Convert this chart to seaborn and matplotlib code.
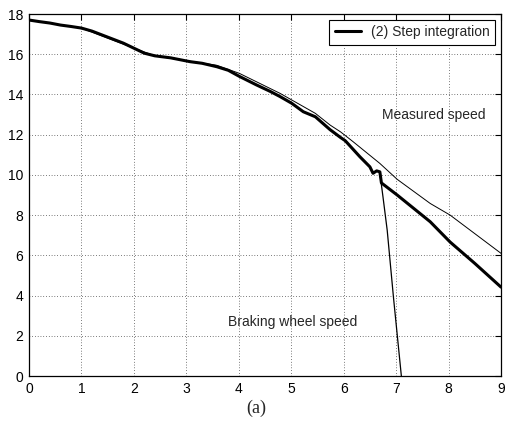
import matplotlib
matplotlib.use("Agg")
import matplotlib.pyplot as plt
import seaborn as sns
import pandas as pd

# Step integration (thick line)
step_t = [0.0, 0.2, 0.4, 0.6, 0.8, 1.0, 1.2, 1.4, 1.6, 1.8, 2.0, 2.2, 2.4, 2.7,
          3.07, 3.3, 3.58, 3.8, 4.01, 4.34, 4.6, 4.79, 5.01, 5.23, 5.46, 5.74,
          5.94, 6.03, 6.31, 6.5, 6.56, 6.63, 6.69, 6.72, 7.02, 7.65, 8.03, 8.5, 9.0]
step_v = [17.7, 17.62, 17.55, 17.45, 17.38, 17.3, 17.15, 16.95, 16.75, 16.55, 16.3,
          16.05, 15.92, 15.82, 15.63, 15.55, 15.38, 15.2, 14.9, 14.47, 14.15, 13.89,
          13.56, 13.14, 12.89, 12.25, 11.86, 11.7, 10.9, 10.4, 10.08, 10.2, 10.15,
          9.6, 9.0, 7.67, 6.66, 5.6, 4.42]

# Measured speed (thin line)
meas_t = [0.0, 1.0, 2.0, 2.4, 3.07, 3.58, 4.01, 4.79, 5.46, 5.74, 5.94, 6.18,
          6.69, 7.02, 7.65, 8.03, 9.0]
meas_v = [17.7, 17.3, 16.3, 15.92, 15.65, 15.45, 15.05, 14.05, 13.06, 12.48,
          12.14, 11.65, 10.57, 9.78, 8.58, 8.0, 6.1]

# Braking wheel speed (thin line)
brake_t = [6.69, 6.75, 6.83, 6.95, 7.1]
brake_v = [10.1, 8.9, 7.25, 3.9, 0.0]

x_ticks = list(range(0, 10))
y_ticks = list(range(0, 19, 2))

sns.set_style("white")
plt.rcParams['font.family'] = ['Liberation Sans', 'DejaVu Sans']

fig = plt.figure(figsize=(5.06, 4.25), dpi=100)
ax = fig.add_axes([29 / 506, 1 - 376 / 425, (501 - 29) / 506, (376 - 14) / 425])

df_step = pd.DataFrame({"t": step_t, "v": step_v})
df_meas = pd.DataFrame({"t": meas_t, "v": meas_v})
df_brake = pd.DataFrame({"t": brake_t, "v": brake_v})

sns.lineplot(data=df_meas, x="t", y="v", ax=ax, color="black", linewidth=0.7,
             sort=False, estimator=None)
sns.lineplot(data=df_brake, x="t", y="v", ax=ax, color="black", linewidth=0.9,
             sort=False, estimator=None)
sns.lineplot(data=df_step, x="t", y="v", ax=ax, color="black", linewidth=2.2,
             sort=False, estimator=None, label="(2) Step integration")

ax.set_xlim(0, 9)
ax.set_ylim(0, 18)
ax.set_xticks(x_ticks)
ax.set_yticks(y_ticks)
ax.set_xlabel("")
ax.set_ylabel("")
ax.grid(True, color="black", linestyle=(0, (1, 3)), linewidth=0.5)
ax.tick_params(direction="in", length=4, width=0.8, labelsize=10,
               top=True, right=True, colors="black", pad=4)
for s in ax.spines.values():
    s.set_color("black")
    s.set_linewidth(0.9)

leg = ax.legend(loc="upper right", frameon=True, fancybox=False, fontsize=10,
                handlelength=1.9, borderpad=0.4, borderaxespad=0.4,
                handletextpad=0.7)
leg.get_frame().set_edgecolor("black")
leg.get_frame().set_linewidth(0.8)
leg.get_frame().set_alpha(1)

ax.text(7.71, 13.0, "Measured speed", fontsize=10, ha="center", va="center")
ax.text(3.8, 2.68, "Braking wheel speed", fontsize=10, ha="left", va="center")

fig.text(256.5 / 506, 1 - 408 / 425, "(a)", fontsize=13, ha="center", va="center",
         family=["Liberation Serif", "DejaVu Serif"])

fig.savefig("out.png", dpi=100)
